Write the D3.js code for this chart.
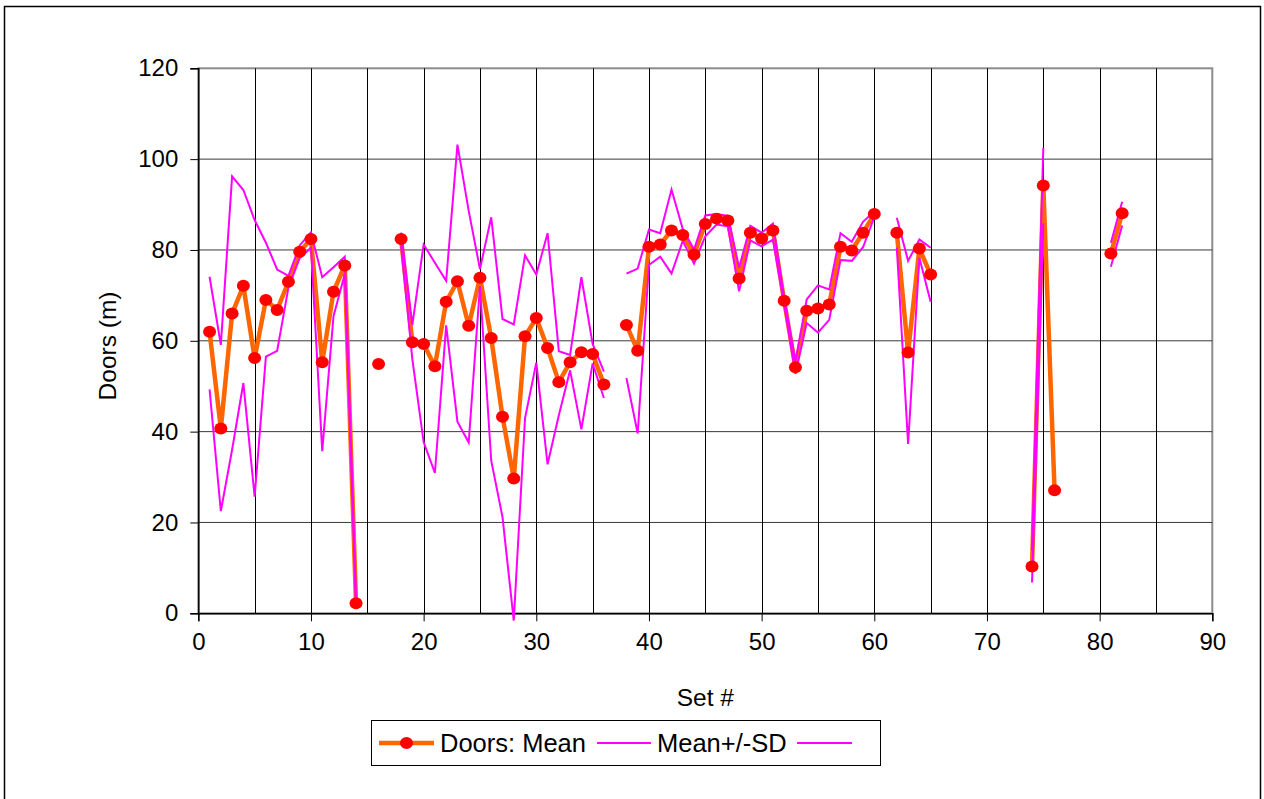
<!DOCTYPE html>
<html lang="en">
<head>
  <meta charset="utf-8">
  <title>Doors by set</title>
  <script src="https://d3js.org/d3.v7.min.js"></script>
  <style>
    body { margin: 0; background: #fff; }
    text { font-family: "Liberation Sans", Arial, sans-serif; fill: #000; }
  </style>
</head>
<body>
  <div id="chart"></div>

  <script type="text/javascript">
    "use strict"

    // set numbers 1..82 (gaps are null in the series)
    var setNumbers = d3.range(1, 83);

    var doorsMean = [
      62.0, 40.7, 66.0, 72.1, 56.2, 69.0, 66.8, 73.0, 79.6, 82.4,   // 1-10
      55.3, 70.8, 76.6, 2.2, null, 54.9, null, 82.4, 59.7, 59.3,    // 11-20
      54.4, 68.6, 73.1, 63.3, 73.9, 60.6, 43.3, 29.7, 61.0, 65.0,   // 21-30
      58.4, 50.9, 55.3, 57.5, 57.1, 50.4, null, 63.5, 57.8, 80.7,   // 31-40
      81.2, 84.3, 83.3, 79.0, 85.7, 86.9, 86.5, 73.7, 83.8, 82.5,   // 41-50
      84.3, 68.8, 54.2, 66.6, 67.1, 68.0, 80.7, 79.9, 83.8, 87.9,   // 51-60
      null, 83.8, 57.4, 80.3, 74.6, null, null, null, null, null,   // 61-70
      null, null, null, 10.3, 94.2, 27.1, null, null, null, null,   // 71-80
      79.2, 88.1                                                    // 81-82
    ];

    var meanPlusSD = [
      74.1, 59.1, 96.2, 93.2, 86.6, 81.6, 75.7, 74.3, 81.0, 83.9,
      74.0, 76.2, 78.5, 3.0, null, null, null, 83.8, 63.5, 81.2,
      77.2, 73.2, 103.2, 88.6, 75.8, 87.2, 64.8, 63.6, 78.8, 74.6,
      83.7, 57.7, 56.9, 74.0, 59.3, 53.2, null, 74.8, 75.9, 84.5,
      83.7, 93.3, 84.6, 80.1, 87.6, 87.9, 87.5, 76.1, 85.3, 83.8,
      85.8, 69.5, 55.5, 69.1, 72.2, 71.3, 83.7, 81.8, 86.2, 88.5,
      null, 87.1, 77.6, 82.3, 80.5, null, null, null, null, null,
      null, null, null, 13.8, 102.5, null, null, null, null, null,
      81.6, 90.6
    ];

    var meanMinusSD = [
      49.3, 22.5, 36.0, 50.7, 25.7, 56.5, 57.8, 71.7, 78.2, 80.5,
      35.7, 65.4, 74.7, 1.4, null, null, null, 81.0, 55.9, 37.7,
      30.9, 63.4, 42.2, 37.6, 72.0, 33.6, 21.2, -1.6, 43.0, 55.2,
      32.8, 43.6, 53.5, 40.5, 55.0, 47.4, null, 51.8, 39.6, 76.7,
      78.5, 74.8, 82.0, 77.0, 83.0, 85.6, 85.2, 70.9, 82.1, 80.8,
      82.3, 68.0, 52.7, 63.9, 61.8, 64.6, 77.8, 77.6, 80.6, 87.2,
      null, 80.5, 37.3, 78.3, 68.6, null, null, null, null, null,
      null, null, null, 6.8, 85.9, null, null, null, null, null,
      76.3, 85.4
    ];

    var xTicks = [0, 10, 20, 30, 40, 50, 60, 70, 80, 90];
    var xGrid = d3.range(5, 90, 5);
    var yTicks = [0, 20, 40, 60, 80, 100, 120];
    var legendLabels = ["Doors: Mean", "Mean+/-SD", ""];

    var larguraSVG = 1264, alturaSVG = 799;
    var plot = {left: 198.3, right: 1212.3, top: 68.3, bottom: 613.3};

    var svg = d3.select('#chart')
      .append('svg')
        .attr('width', larguraSVG)
        .attr('height', alturaSVG);

    // chart border
    svg.append('rect')
      .attr('x', 4.5).attr('y', 6.5)
      .attr('width', 1256).attr('height', 800)
      .attr('fill', '#fff')
      .attr('stroke', '#000')
      .attr('stroke-width', 1.5);

    /*
     * scales
     */
    var x = d3.scaleLinear().domain([0, 90]).range([plot.left, plot.right]);
    var y = d3.scaleLinear().domain([0, 120]).range([plot.bottom, plot.top]);

    // plot area
    svg.append('rect')
      .attr('x', plot.left).attr('y', plot.top)
      .attr('width', plot.right - plot.left)
      .attr('height', plot.bottom - plot.top)
      .attr('fill', '#fff')
      .attr('stroke', '#8c8c8c')
      .attr('stroke-width', 2);

    // gridlines
    svg.append('g').selectAll('line')
      .data(yTicks.slice(1, -1))
      .enter().append('line')
        .attr('x1', plot.left).attr('x2', plot.right)
        .attr('y1', d => y(d)).attr('y2', d => y(d))
        .attr('stroke', '#3a3a3a').attr('stroke-width', 1);

    svg.append('g').selectAll('line')
      .data(xGrid)
      .enter().append('line')
        .attr('x1', d => Math.round(x(d)) + 0.5).attr('x2', d => Math.round(x(d)) + 0.5)
        .attr('y1', plot.top).attr('y2', plot.bottom)
        .attr('stroke', '#000').attr('stroke-width', 1);

    /*
     * axes
     */
    var axisX = svg.append('g')
      .attr('transform', 'translate(0,' + plot.bottom + ')')
      .call(d3.axisBottom(x).tickValues(xTicks).tickSize(8).tickPadding(12).tickFormat(d3.format('d')));

    var axisY = svg.append('g')
      .attr('transform', 'translate(' + plot.left + ',0)')
      .call(d3.axisLeft(y).tickValues(yTicks).tickSize(8).tickPadding(12).tickFormat(d3.format('d')));

    [axisX, axisY].forEach(function(a) {
      a.select('.domain').attr('stroke', '#000').attr('stroke-width', 1.5);
      a.selectAll('.tick line').attr('stroke', '#000');
      a.selectAll('text')
        .style('font-family', '"Liberation Sans", Arial, sans-serif')
        .style('font-size', '24px')
        .attr('fill', '#000');
    });

    // axis titles
    svg.append('text')
      .attr('x', (plot.left + plot.right) / 2).attr('y', 706)
      .attr('text-anchor', 'middle')
      .style('font-size', '24.5px')
      .text('Set #');

    svg.append('text')
      .attr('transform', 'translate(116,' + 346 + ') rotate(-90)')
      .attr('text-anchor', 'middle')
      .style('font-size', '24.5px')
      .text('Doors (m)');

    /*
     * marks
     */
    function linha(valores) {
      return d3.line()
        .defined((d, i) => valores[i] !== null)
        .x(d => x(d))
        .y((d, i) => y(valores[i]))(setNumbers);
    }

    svg.append('path')
      .attr('d', linha(doorsMean))
      .attr('fill', 'none')
      .attr('stroke', '#ff6600')
      .attr('stroke-width', 4.5)
      .attr('stroke-linejoin', 'round');

    [meanPlusSD, meanMinusSD].forEach(function(serie) {
      svg.append('path')
        .attr('d', linha(serie))
        .attr('fill', 'none')
        .attr('stroke', '#ff00ff')
        .attr('stroke-width', 2);
    });

    svg.append('g').selectAll('ellipse')
      .data(setNumbers.filter((d, i) => doorsMean[i] !== null))
      .enter().append('ellipse')
        .attr('cx', d => x(d))
        .attr('cy', d => y(doorsMean[d - 1]))
        .attr('rx', 6.5)
        .attr('ry', 6)
        .attr('fill', '#ff0000');

    /*
     * legend
     */
    var legenda = svg.append('g');
    legenda.append('rect')
      .attr('x', 371.5).attr('y', 720.5)
      .attr('width', 509).attr('height', 45)
      .attr('fill', '#fff')
      .attr('stroke', '#000')
      .attr('stroke-width', 1);

    var itens = [
      {x0: 379, x1: 434, tx: 440, cor: '#ff6600', w: 4.5, dot: true},
      {x0: 597, x1: 651, tx: 657, cor: '#ff00ff', w: 2, dot: false},
      {x0: 797, x1: 852, tx: 858, cor: '#ff00ff', w: 2, dot: false}
    ];
    itens.forEach(function(it, i) {
      legenda.append('line')
        .attr('x1', it.x0).attr('x2', it.x1)
        .attr('y1', 743).attr('y2', 743)
        .attr('stroke', it.cor).attr('stroke-width', it.w);
      if (it.dot) {
        legenda.append('ellipse')
          .attr('cx', (it.x0 + it.x1) / 2).attr('cy', 743)
          .attr('rx', 6.5).attr('ry', 6)
          .attr('fill', '#ff0000');
      }
      legenda.append('text')
        .attr('x', it.tx).attr('y', 752)
        .style('font-size', '25.5px')
        .text(legendLabels[i]);
    });
  </script>
</body>
</html>
